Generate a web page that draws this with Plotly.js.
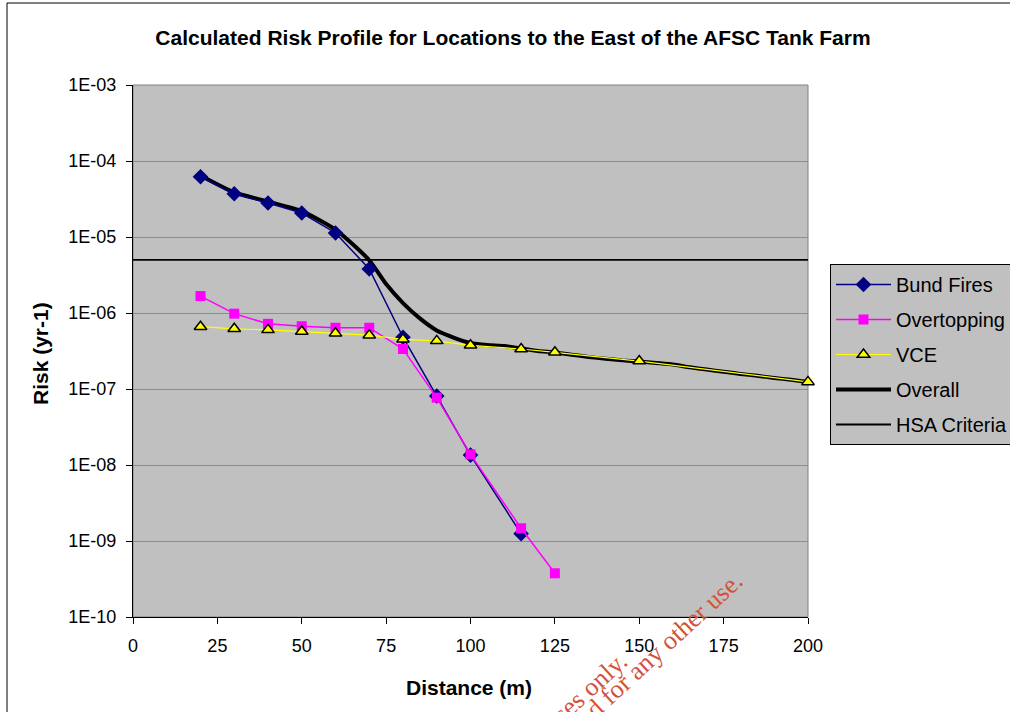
<!DOCTYPE html>
<html>
<head>
<meta charset="utf-8">
<script src="https://cdn.plot.ly/plotly-3.0.1.min.js"></script>
<style>
html,body{margin:0;padding:0;background:#fff;overflow:hidden;}
#chart{width:1010px;height:712px;}
</style>
</head>
<body>
<div id="chart"></div>
<script>
// ---- Data ----
const bundX = [20, 30, 40, 50, 60, 70, 80, 90, 100, 115];
const bundY = [6.2e-5, 3.7e-5, 2.8e-5, 2.07e-5, 1.13e-5, 3.8e-6, 4.8e-7, 8.1e-8, 1.35e-8, 1.25e-9];

const overX = [20, 30, 40, 50, 60, 70, 80, 90, 100, 115, 125];
const overY = [1.67e-6, 9.8e-7, 7.2e-7, 6.7e-7, 6.4e-7, 6.4e-7, 3.36e-7, 7.7e-8, 1.38e-8, 1.47e-9, 3.76e-10];

const vceX = [20, 30, 40, 50, 60, 70, 80, 90, 100, 115, 125, 150, 200];
const vceY = [6.6e-7, 6.2e-7, 6.0e-7, 5.7e-7, 5.4e-7, 5.1e-7, 4.5e-7, 4.3e-7, 3.76e-7, 3.36e-7, 3.04e-7, 2.33e-7, 1.24e-7];

const overallX = [20, 30, 40, 50, 60, 70, 75, 80, 85, 90, 95, 100, 105, 110, 115, 120, 125, 130, 135, 140, 145, 150, 155, 160, 165, 170, 175, 180, 185, 190, 195, 200];
const overallY = [6.45e-5, 3.86e-5, 2.93e-5, 2.19e-5, 1.25e-5, 4.95e-6, 2.4e-6, 1.35e-6, 8.5e-7, 5.9e-7, 4.75e-7, 4.03e-7, 3.78e-7, 3.68e-7, 3.4e-7, 3.16e-7, 3.02e-7, 2.83e-7, 2.64e-7, 2.5e-7, 2.38e-7, 2.3e-7, 2.2e-7, 2.1e-7, 1.93e-7, 1.8e-7, 1.69e-7, 1.58e-7, 1.49e-7, 1.4e-7, 1.32e-7, 1.24e-7];

const hsaX = [0, 200];
const hsaY = [5e-6, 5e-6];

const yTickVals = [1e-3, 1e-4, 1e-5, 1e-6, 1e-7, 1e-8, 1e-9, 1e-10];
const yTickText = ["1E-03", "1E-04", "1E-05", "1E-06", "1E-07", "1E-08", "1E-09", "1E-10"];
const xTickVals = [0, 25, 50, 75, 100, 125, 150, 175, 200];

const titleText = "Calculated Risk Profile for Locations to the East of the AFSC Tank Farm";
const xTitle = "Distance (m)";
const yTitle = "Risk (yr-1)";
const wmLine1 = "For inspection purposes only.";
const wmLine2 = "Consent of copyright owner required for any other use.";

// ---- Layout geometry ----
const W = 1010, H = 712;
const L = 133, R = 808, T = 85, B = 617;
const pw = R - L, ph = B - T;
const px2x = p => (p - L) / pw;
const py2y = p => (B - p) / ph;

const FONT = "Liberation Sans, Arial, sans-serif";

const traces = [
  {x: hsaX, y: hsaY, name: "HSA Criteria", mode: "lines", line: {color: "#000000", width: 1.8},
   legendgroup: "g5", legendrank: 5},
  {x: overallX, y: overallY, name: "Overall", mode: "lines", line: {color: "#000000", width: 4, shape: "spline", smoothing: 0.6},
   legendgroup: "g4", legendrank: 4},
  {x: bundX, y: bundY, name: "Bund Fires", mode: "lines+markers", line: {color: "#000080", width: 1.5},
   marker: {symbol: "diamond", size: 12, color: "#000080"}, legendgroup: "g1", legendrank: 1},
  {x: overX, y: overY, name: "Overtopping", mode: "lines+markers", line: {color: "#FF00FF", width: 1.5},
   marker: {symbol: "square", size: 10, color: "#FF00FF"}, legendgroup: "g2", legendrank: 2},
  {x: vceX, y: vceY, name: "VCE", mode: "lines+markers", line: {color: "#FFFF00", width: 1.2},
   marker: {symbol: "triangle-up", size: 11, color: "#FFFF00", line: {color: "#000000", width: 1.5}},
   legendgroup: "g3", legendrank: 3, cliponaxis: false}
];

// watermark placement: measure text to put the visible end where it is in the reference
function measure(txt, font) {
  const c = document.createElement("canvas").getContext("2d");
  c.font = font;
  return c.measureText(txt).width;
}
const wmSize = 26;
const wmFont = wmSize + "px 'Liberation Serif'";
const ang = -42.5 * Math.PI / 180;
function wmCenter(txt, ex, ey) {
  const w = measure(txt, wmFont);
  const ux = Math.cos(ang), uy = Math.sin(ang);
  const upx = Math.sin(ang), upy = -Math.cos(ang);
  const cx = ex - (w / 2) * ux + 0.33 * wmSize * upx;
  const cy = ey - (w / 2) * uy + 0.33 * wmSize * upy;
  return {x: px2x(cx), y: py2y(cy)};
}
const wm1 = wmCenter(wmLine1, 629, 663);
const wm2 = wmCenter(wmLine2, 744, 583);

const layout = {
  width: W, height: H,
  margin: {l: L, r: W - R, t: T, b: H - B, pad: 0, autoexpand: false},
  paper_bgcolor: "#FFFFFF",
  plot_bgcolor: "#C0C0C0",
  font: {family: FONT, size: 18, color: "#000000"},
  title: {text: "<b>" + titleText + "</b>", x: 513 / W, xref: "container", xanchor: "center",
          y: 1 - 38 / H, yref: "container", yanchor: "middle", font: {family: FONT, size: 21, color: "#000"}},
  showlegend: true,
  legend: {x: px2x(830), y: py2y(264), xanchor: "left", yanchor: "top", xref: "paper", yref: "paper",
           bgcolor: "#C0C0C0", bordercolor: "#000000", borderwidth: 1,
           font: {family: FONT, size: 20, color: "#000"}, itemwidth: 55, traceorder: "grouped",
           tracegroupgap: 6},
  xaxis: {range: [0, 200], tickvals: xTickVals, ticktext: xTickVals.map(String),
          showgrid: false, zeroline: false, showline: true, linecolor: "#000", linewidth: 1,
          ticks: "outside", ticklen: 6, tickcolor: "#000", tickfont: {family: FONT, size: 18},
          ticklabelstandoff: 6, mirror: false},
  yaxis: {type: "log", range: [-10, -3], tickvals: yTickVals, ticktext: yTickText,
          showgrid: true, gridcolor: "#8C8C8C", gridwidth: 1, zeroline: false,
          showline: true, linecolor: "#000", linewidth: 1,
          ticks: "outside", ticklen: 6, tickcolor: "#000", tickfont: {family: FONT, size: 18},
          ticklabelstandoff: 6},
  shapes: [
    {type: "rect", xref: "paper", yref: "paper", x0: 0, x1: 1, y0: 0, y1: 1,
     line: {color: "#808080", width: 1}, layer: "below"},
    {type: "rect", xref: "paper", yref: "paper", x0: px2x(7), x1: px2x(1100), y0: py2y(800), y1: py2y(3),
     line: {color: "#000000", width: 1}, layer: "below"}
  ],
  annotations: [
    {text: "<b>" + xTitle + "</b>", xref: "paper", yref: "paper", x: px2x(469), y: py2y(687),
     xanchor: "center", yanchor: "middle", showarrow: false, font: {family: FONT, size: 21}},
    {text: "<b>" + yTitle + "</b>", xref: "paper", yref: "paper", x: px2x(40), y: py2y(354),
     xanchor: "center", yanchor: "middle", showarrow: false, textangle: -90, font: {family: FONT, size: 21}},
    {text: wmLine1, xref: "paper", yref: "paper", x: wm1.x, y: wm1.y, xanchor: "center", yanchor: "middle",
     showarrow: false, textangle: -42.5, font: {family: "Liberation Serif, Times New Roman, serif", size: wmSize, color: "#D4513C"}},
    {text: wmLine2, xref: "paper", yref: "paper", x: wm2.x, y: wm2.y, xanchor: "center", yanchor: "middle",
     showarrow: false, textangle: -42.5, font: {family: "Liberation Serif, Times New Roman, serif", size: wmSize, color: "#D4513C"}}
  ]
};

Plotly.newPlot("chart", traces, layout, {displayModeBar: false, staticPlot: true});
</script>
</body>
</html>
